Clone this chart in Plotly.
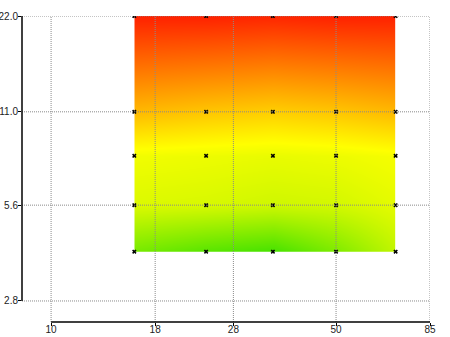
import math
import plotly.graph_objects as go

# data
x_vals = [16, 24, 35, 50, 70]
y_vals = [4, 5.6, 8, 11, 22]
z_vals = [
    [0.14, 0.07, 0.03, 0.16, 0.31],
    [0.37, 0.36, 0.34, 0.35, 0.39],
    [0.42, 0.41, 0.40, 0.41, 0.43],
    [0.61, 0.58, 0.56, 0.58, 0.61],
    [0.96, 0.96, 0.95, 0.96, 0.96],
]
x_ticks = [10, 18, 28, 50, 85]
x_ticktext = ["10", "18", "28", "50", "85"]
y_ticks = [2.8, 5.6, 11, 22]
y_ticktext = ["2.8", "5.6", "11.0", "22.0"]

colorscale = [[0.0, "#38e000"], [0.45, "#ffff00"], [1.0, "#ff1000"]]

fig = go.Figure()
fig.add_trace(go.Contour(
    x=x_vals, y=y_vals, z=z_vals,
    zmin=0, zmax=1,
    colorscale=colorscale,
    contours=dict(coloring="heatmap", showlines=False, start=0, end=1, size=0.5),
    line=dict(width=0),
    showscale=False,
    hoverinfo="skip",
))

mx = [xv for yv in y_vals for xv in x_vals]
my = [yv for yv in y_vals for xv in x_vals]
fig.add_trace(go.Scatter(
    x=mx, y=my, mode="markers",
    marker=dict(symbol="x", size=4, color="black", line=dict(width=0)),
    showlegend=False, hoverinfo="skip",
))

grid = dict(color="#8a8a8a", width=1, dash="1px,1px")
shapes = []
for xv in x_ticks:
    shapes.append(dict(type="line", xref="x", yref="paper", x0=xv, x1=xv,
                       y0=0, y1=1, line=grid, layer="above"))
for yv in y_ticks:
    shapes.append(dict(type="line", xref="paper", yref="y", x0=0, x1=1,
                       y0=yv, y1=yv, line=grid, layer="above"))
# range-frame axis lines
shapes.append(dict(type="line", xref="paper", yref="y", x0=0, x1=0,
                   y0=y_ticks[0], y1=y_ticks[-1],
                   line=dict(color="black", width=1.5), layer="above"))
shapes.append(dict(type="line", xref="x", yref="paper", x0=x_ticks[0], x1=x_ticks[-1],
                   y0=0, y1=0, line=dict(color="black", width=1.5), layer="above"))

font = dict(family="Liberation Sans, Arial, sans-serif", size=10, color="#222222")
fig.update_layout(
    width=450, height=337,
    margin=dict(l=22, r=20, t=16, b=15, pad=0),
    paper_bgcolor="white", plot_bgcolor="white",
    showlegend=False,
    shapes=shapes,
    font=font,
    xaxis=dict(type="log", range=[math.log10(8.485), math.log10(85)],
               tickvals=x_ticks, ticktext=x_ticktext, automargin=False,
               showgrid=False, zeroline=False, showline=False,
               ticks="outside", ticklen=3, tickcolor="black", tickfont=font,
               ticklabelstandoff=-5),
    yaxis=dict(type="log", range=[math.log10(2.405), math.log10(22)],
               tickvals=y_ticks, ticktext=y_ticktext, automargin=False,
               showgrid=False, zeroline=False, showline=False,
               ticks="outside", ticklen=3, tickcolor="black", tickfont=font,
               ticklabelstandoff=-2),
)

fig.write_html("out.html")
